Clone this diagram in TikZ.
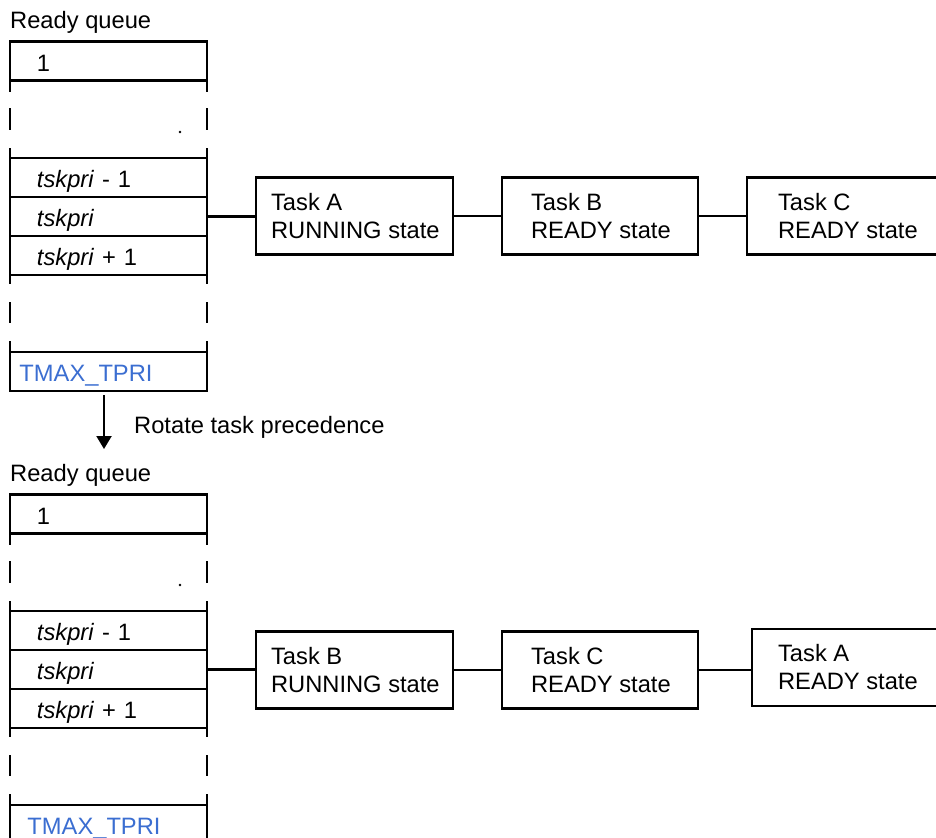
\documentclass[tikz,border=0pt]{standalone}
\usepackage{fontspec}
\setmainfont{Liberation Sans}
\usetikzlibrary{arrows.meta}
\definecolor{tmaxblue}{RGB}{59,110,209}

% one ready queue: #1 name prefix, #2 vertical offset, #3 left inset of TMAX_TPRI
\newcommand{\readyqueue}[3]{%
  \begin{scope}[shift={(0,#2)}]
    \node[qlabel] (#1label) at (10,28) {Ready queue};
    \node[qcell] (#1one)  at (108.5,61)    {1};
    \node[qcell] (#1prev) at (108.5,177.5) {\textit{tskpri} - 1};
    \node[qcell] (#1cur)  at (108.5,216.5) {\textit{tskpri}};
    \node[qcell] (#1next) at (108.5,255.5) {\textit{tskpri} + 1};
    \node[qcell, text=tmaxblue, inner xsep=#3, text width=197bp-2*#3]
      (#1tmax) at (108.5,371.5) {TMAX\_TPRI};
    % broken side walls between the cells
    \foreach \x in {10,207} {
      \draw[wall] (\x,80.5) -- (\x,92);
      \draw[wall] (\x,108) -- (\x,130);
      \draw[wall] (\x,148) -- (\x,158);
      \draw[wall] (\x,275) -- (\x,284);
      \draw[wall] (\x,302) -- (\x,323);
      \draw[wall] (\x,341) -- (\x,352);
    }
    \fill (180,132) circle (1.3bp);
  \end{scope}}

\begin{document}
\begin{tikzpicture}[x=1bp, y=-1bp,
  every node/.style={font=\fontsize{23.7bp}{28bp}\selectfont},
  wall/.style={line width=2.2bp},
  qlabel/.style={anchor=base west, inner sep=0pt},
  qcell/.style={draw, line width=2.2bp, minimum width=197bp, minimum height=39bp,
    inner xsep=27bp, inner ysep=0pt, text width=143bp, align=left,
    text height=20bp, text depth=0bp},
  taskbox/.style={draw, line width=2.2bp, minimum height=77bp, inner sep=0pt},
  tasktext/.style={anchor=west, align=left, inner sep=0pt},
  link/.style={line width=2.2bp}]
\useasboundingbox (0,0) rectangle (936,838);
\clip (0,0) rectangle (936,838);

% ---------------- before rotation ----------------
\readyqueue{u}{0}{9.5bp}

\node[taskbox, minimum width=197bp] (uA) at (354.5,216) {};
\node[taskbox, minimum width=196bp] (uB) at (600,216) {};
\node[taskbox, minimum width=220bp] (uC) at (857,216) {};
\node[tasktext] (uAt) at ([xshift=16bp]uA.west) {Task A\\RUNNING state};
\node[tasktext] (uBt) at ([xshift=30bp]uB.west) {Task B\\READY state};
\node[tasktext] (uCt) at ([xshift=32bp]uC.west) {Task C\\READY state};

\draw[link] (ucur.east) -- (ucur.east -| uA.west);
\draw[link] (uA.east) -- (uB.west);
\draw[link] (uB.east) -- (uC.west);

% ---------------- rotation ----------------
\coordinate (tip) at (104,449);
\draw[link, shorten <=3bp, -{Triangle[width=15bp,length=13bp]}]
  (utmax.south -| tip) -- (tip);
\node[qlabel] (rot) at (134,433) {Rotate task precedence};

% ---------------- after rotation ----------------
\readyqueue{l}{453}{17.5bp}

\node[taskbox, minimum width=197bp] (lB) at (354.5,670) {};
\node[taskbox, minimum width=196bp] (lC) at (600,670) {};
\node[taskbox, minimum width=215bp] (lA) at (859.5,667.5) {};
\node[tasktext] (lBt) at ([xshift=16bp]lB.west) {Task B\\RUNNING state};
\node[tasktext] (lCt) at ([xshift=30bp]lC.west) {Task C\\READY state};
\node[tasktext] (lAt) at ([xshift=27bp]lA.west) {Task A\\READY state};

\draw[link] (lcur.east) -- (lcur.east -| lB.west);
\draw[link] (lB.east) -- (lC.west);
\draw[link] (lC.east) -- (lC.east -| lA.west);
\end{tikzpicture}
\end{document}
